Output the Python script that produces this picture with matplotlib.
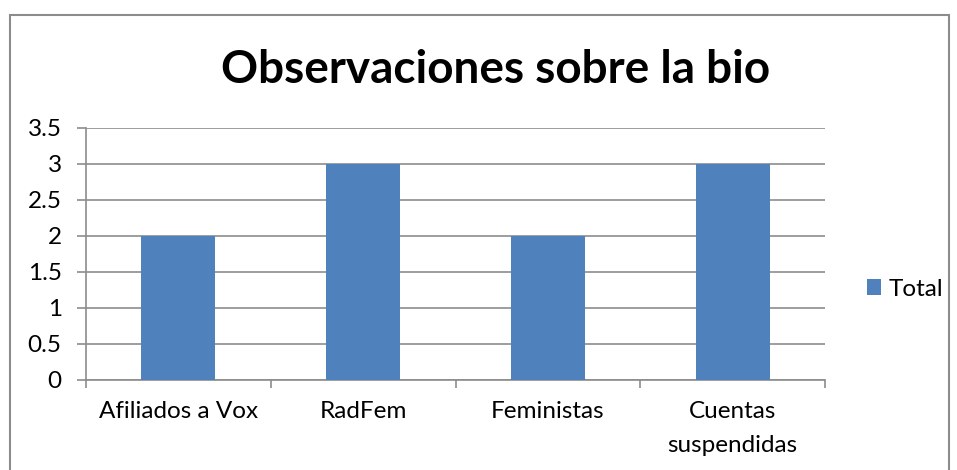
import matplotlib.pyplot as plt
from matplotlib.patches import Rectangle

categorias = ["Afiliados a Vox", "RadFem", "Feministas", "Cuentas\nsuspendidas"]
total = [2, 3, 2, 3]
yticks = [0, 0.5, 1, 1.5, 2, 2.5, 3, 3.5]
ytick_labels = ["0", "0.5", "1", "1.5", "2", "2.5", "3", "3.5"]

plt.rcParams['font.family'] = ['Lato', 'DejaVu Sans']
fs = 17.5

W, H = 957, 470
fig = plt.figure(figsize=(W / 100, H / 100), dpi=100)
ax = fig.add_axes([86 / W, 1 - 380 / H, (825 - 86) / W, (380 - 128) / H])

x = range(len(categorias))
bars = ax.bar(x, total, width=0.4, color='#4F81BD', label='Total', zorder=3)

ax.set_xlim(-0.5, len(categorias) - 0.5)
ax.set_ylim(0, 3.5)
ax.set_yticks(yticks)
ax.set_yticklabels(ytick_labels, fontsize=fs)
ax.yaxis.grid(True, color='#8c8c8c', linewidth=1.2, zorder=0)

ax.set_xticks([i - 0.5 for i in range(len(categorias) + 1)], minor=False)
ax.set_xticklabels([])
ax.set_xticks(list(x), minor=True)
ax.set_xticklabels(categorias, minor=True, fontsize=fs, linespacing=1.8)
ax.tick_params(axis='x', which='minor', length=0, pad=15)
ax.tick_params(axis='x', which='major', length=6, color='#8c8c8c', width=1.2)
ax.tick_params(axis='y', length=6.5, color='#8c8c8c', width=1.2, pad=11)
for lbl in ax.get_xticklabels(minor=True):
    lbl.set_verticalalignment('top')

for s in ['top', 'right']:
    ax.spines[s].set_visible(False)
for s in ['left', 'bottom']:
    ax.spines[s].set_color('#8c8c8c')
    ax.spines[s].set_linewidth(1.2)

fig.text(496 / W, 1 - 70 / H, "Observaciones sobre la bio", ha='center', va='center',
         fontsize=33, fontweight='bold')

fig.legend(handles=[bars], labels=['Total'], loc='center left',
           bbox_to_anchor=(845 / W, 1 - 289 / H), frameon=False, fontsize=fs,
           handlelength=0.6, handleheight=0.6, handletextpad=0.3)

fig.patches.append(Rectangle((10 / W, -0.1), (949 - 10) / W, 1.1 - 15 / H,
                             transform=fig.transFigure, fill=False,
                             edgecolor='#8c8c8c', linewidth=1.5))

fig.savefig('out.png', dpi=100)
